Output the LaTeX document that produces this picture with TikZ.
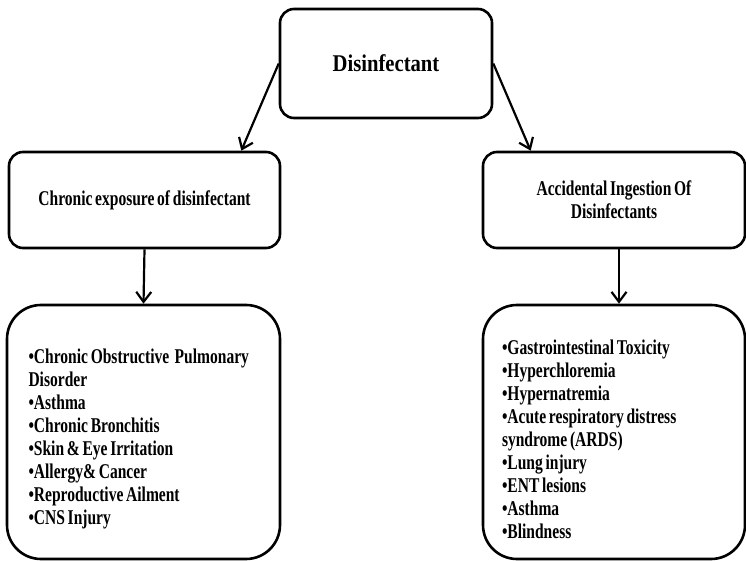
\documentclass[tikz,border=0pt]{standalone}
\usepackage{fontspec}
\setmainfont{Liberation Serif}[FakeStretch=0.74, WordSpace=0.7]
\newfontfamily\topfont{Liberation Serif}[FakeStretch=0.86]
\usetikzlibrary{arrows.meta}

\begin{document}
\begin{tikzpicture}[x=1pt, y=-1pt,
  every node/.style={font=\bfseries\fontsize{21}{23}\selectfont},
  box/.style={draw, line width=2.6pt, rounded corners=14pt, align=center},
  listbox/.style={draw, line width=2.6pt, rounded corners=34pt, align=flush left},
  arr/.style={line width=2.2pt, -{Straight Barb[length=10pt, width=15pt, line width=2.2pt]}}]
\useasboundingbox (0,0) rectangle (746,561);

\node[box, minimum width=212pt, minimum height=109pt,
  font=\topfont\bfseries\fontsize{24}{28}\selectfont] (disinf) at (386,63.5)
{Disinfectant};

\node[box, minimum width=271pt, minimum height=96pt] (chronic) at (144.5,200)
{Chronic exposure of disinfectant};

\node[box, minimum width=262pt, minimum height=96pt] (ingest) at (614,200)
{Accidental Ingestion\ Of\\Disinfectants};

\node[listbox, minimum width=273pt, minimum height=254pt, text width=230pt] (chroniceff) at (143.5,432)
{\rule{0pt}{29pt}\textbullet Chronic Obstructive\ \ Pulmonary\\Disorder\\\textbullet Asthma\\\textbullet Chronic Bronchitis\\
\textbullet Skin \& Eye Irritation\\\textbullet Allergy\& Cancer\\\textbullet Reproductive Ailment\\\textbullet CNS Injury};

\node[listbox, minimum width=262pt, minimum height=254pt, text width=224pt] (ingesteff) at (614,432)
{\rule{0pt}{29pt}\textbullet Gastrointestinal Toxicity\\\textbullet Hyperchloremia\\\textbullet Hypernatremia\\
\textbullet Acute respiratory\ distress\\syndrome (ARDS)\\\textbullet Lung injury\\\textbullet ENT lesions\\
\textbullet Asthma\\\textbullet Blindness};

\draw[arr] (disinf.west) -- ([xshift=-40pt]chronic.north east);
\draw[arr] (disinf.east) -- ([xshift=49pt]ingest.north west);
\draw[arr] (chronic.south) -- (chroniceff.north);
\draw[arr] ([xshift=5pt]ingest.south) -- ([xshift=5pt]ingesteff.north);
\end{tikzpicture}
\end{document}
